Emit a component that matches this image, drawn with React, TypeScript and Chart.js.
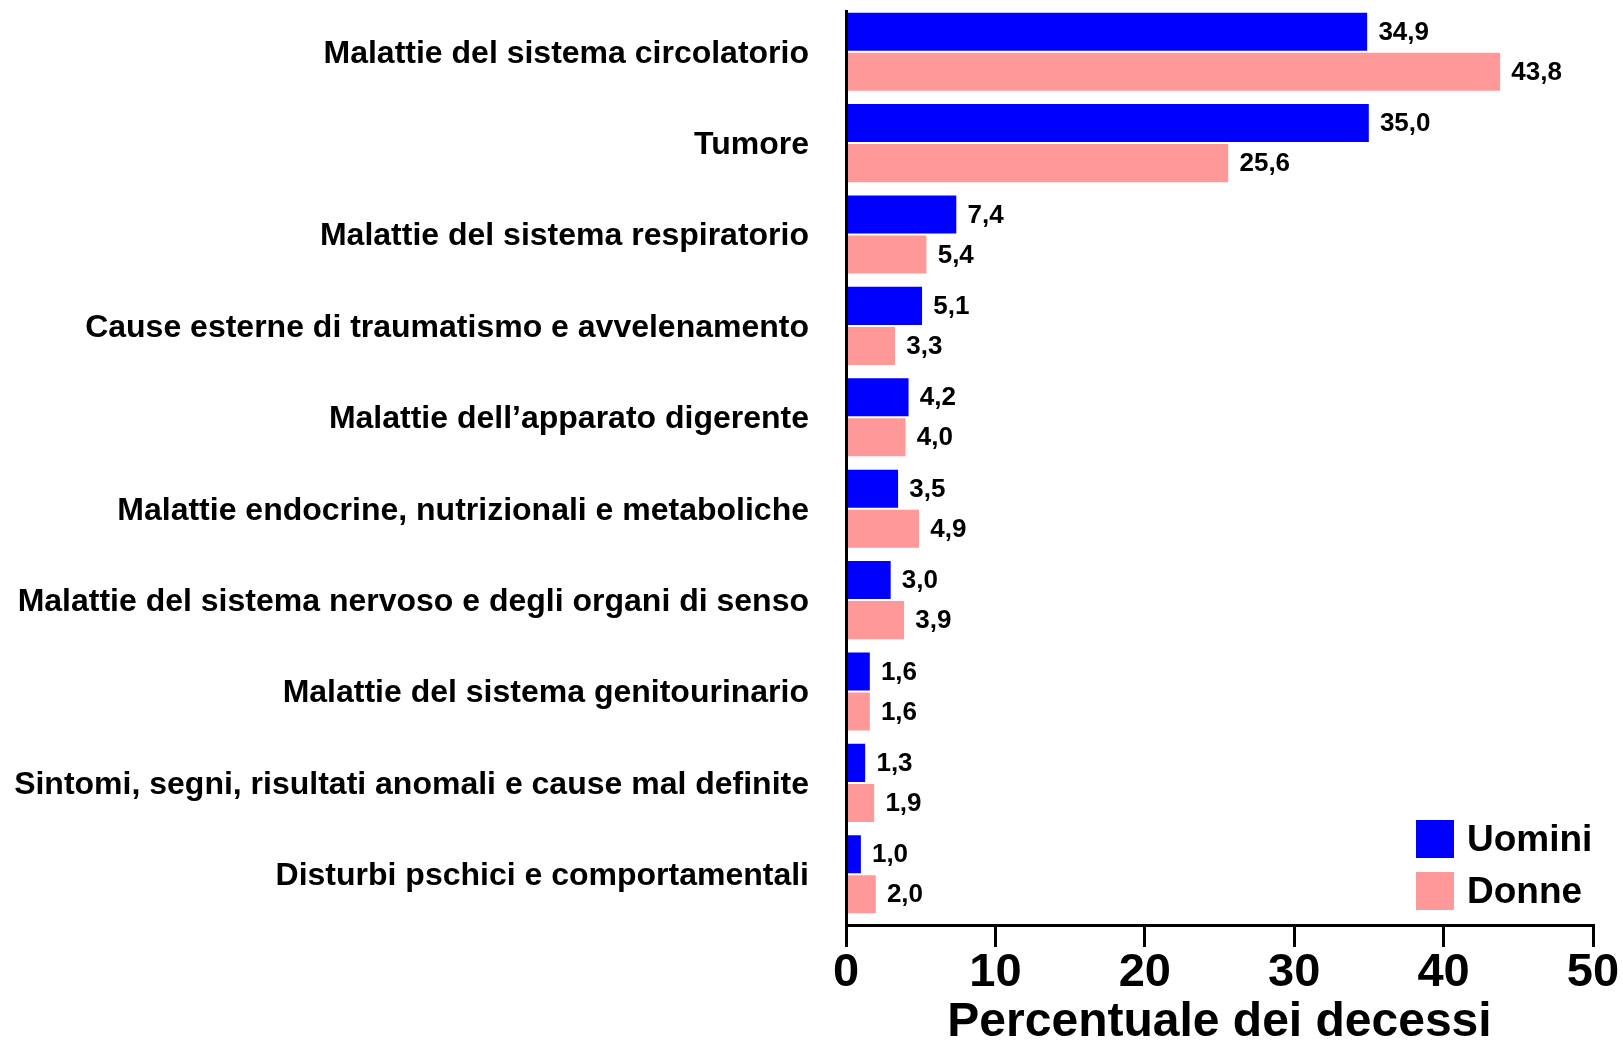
import React, { useEffect, useRef } from "react";
import { Chart, registerables } from "chart.js";

Chart.register(...registerables);

const categories = [
  "Malattie del sistema circolatorio",
  "Tumore",
  "Malattie del sistema respiratorio",
  "Cause esterne di traumatismo e avvelenamento",
  "Malattie dell’apparato digerente",
  "Malattie endocrine, nutrizionali e metaboliche",
  "Malattie del sistema nervoso e degli organi di senso",
  "Malattie del sistema genitourinario",
  "Sintomi, segni, risultati anomali e cause mal definite",
  "Disturbi pschici e comportamentali",
];
const uomini = [34.9, 35.0, 7.4, 5.1, 4.2, 3.5, 3.0, 1.6, 1.3, 1.0];
const donne = [43.8, 25.6, 5.4, 3.3, 4.0, 4.9, 3.9, 1.6, 1.9, 2.0];
const seriesLabels = ["Uomini", "Donne"];
const seriesColors = ["#0000FF", "#FF9999"];
const xTicks = [0, 10, 20, 30, 40, 50];
const axisTitle = "Percentuale dei decessi";

const W = 1623;
const H = 1047;
const FONT = "'Liberation Sans', Arial, Helvetica, sans-serif";

const axisShift = {
  id: "axisShift",
  afterLayout(chart: any) {
    const x = chart.scales.x;
    const y = chart.scales.y;
    const shift = 5;
    x.top += shift;
    y.top += shift;
    y.bottom += shift;
  },
};

const valueLabels = {
  id: "valueLabels",
  afterDatasetsDraw(chart: any) {
    const ctx = chart.ctx;
    ctx.save();
    ctx.font = `bold 26px ${FONT}`;
    ctx.fillStyle = "#000";
    ctx.textAlign = "left";
    ctx.textBaseline = "middle";
    chart.data.datasets.forEach((ds: any, di: number) => {
      const meta = chart.getDatasetMeta(di);
      meta.data.forEach((el: any, i: number) => {
        const v = ds.data[i] as number;
        ctx.fillText(v.toFixed(1).replace(".", ","), el.x + 11, el.y + 1);
      });
    });
    ctx.restore();
  },
};

const customLegend = {
  id: "customLegend",
  afterDraw(chart: any) {
    const ctx = chart.ctx;
    const ca = chart.chartArea;
    const box = 38;
    const step = 52;
    const x0 = ca.right - 177;
    const y0 = ca.bottom - 100;
    ctx.save();
    ctx.font = `bold 37px ${FONT}`;
    ctx.textAlign = "left";
    ctx.textBaseline = "middle";
    chart.data.datasets.forEach((ds: any, i: number) => {
      const y = y0 + i * step;
      ctx.fillStyle = ds.backgroundColor;
      ctx.fillRect(x0, y, box, box);
      ctx.fillStyle = "#000";
      ctx.fillText(ds.label, x0 + 51, y + box / 2 + 1.5);
    });
    ctx.restore();
  },
};

export default function App() {
  const ref = useRef<HTMLCanvasElement>(null);

  useEffect(() => {
    const datasets = [uomini, donne].map((data, i) => ({
      label: seriesLabels[i],
      data,
      backgroundColor: seriesColors[i],
      borderColor: "#FFFFFF",
      borderWidth: { top: 1, bottom: 1, left: 0, right: 0 },
      borderSkipped: false,
      categoryPercentage: 0.876,
      barPercentage: 1,
    }));

    const chart = new Chart(ref.current as HTMLCanvasElement, {
      type: "bar",
      data: { labels: categories, datasets },
      options: {
        indexAxis: "y",
        responsive: false,
        animation: false,
        layout: { padding: { top: 6, right: 30, left: 0, bottom: 0 } },
        plugins: {
          legend: { display: false },
          tooltip: { enabled: false },
          title: { display: false },
        },
        scales: {
          x: {
            type: "linear",
            position: "bottom",
            min: 0,
            max: 50,
            afterBuildTicks: (s: any) => {
              s.ticks = xTicks.map((v) => ({ value: v }));
            },
            grid: {
              display: true,
              drawOnChartArea: false,
              drawTicks: true,
              tickLength: 22,
              tickWidth: 3,
              tickColor: "#000",
              color: "#000",
              lineWidth: 3,
            },
            border: { display: true, color: "#000", width: 3, z: 1 },
            ticks: {
              color: "#000",
              font: { family: FONT, size: 47, weight: "bold", lineHeight: 1 },
              padding: 3,
              maxRotation: 0,
              autoSkip: false,
            },
            title: {
              display: true,
              text: axisTitle,
              color: "#000",
              font: { family: FONT, size: 48, weight: "bold", lineHeight: 1 },
              padding: { top: 0, bottom: 0 },
            },
            afterFit: (s: any) => {
              s.height = 127;
              s.paddingLeft = 0;
              s.paddingRight = 0;
            },
          },
          y: {
            type: "category",
            position: "left",
            grid: { display: false, drawTicks: false },
            border: { display: true, color: "#000", width: 3, z: 1 },
            ticks: {
              color: "#000",
              font: { family: FONT, size: 32, weight: "bold" },
              padding: 37,
              labelOffset: 2,
              autoSkip: false,
            },
            afterFit: (s: any) => {
              s.width = 846;
              s.paddingTop = 0;
              s.paddingBottom = 0;
            },
          },
        },
      } as any,
      plugins: [axisShift, valueLabels, customLegend],
    });
    return () => chart.destroy();
  }, []);

  return (
    <div
      style={{
        position: "fixed",
        left: 0,
        top: 0,
        width: W,
        height: 1042,
        overflow: "hidden",
        background: "#fff",
      }}
    >
      <canvas
        ref={ref}
        width={W}
        height={H}
        style={{ display: "block", width: W, height: H }}
      />
    </div>
  );
}
